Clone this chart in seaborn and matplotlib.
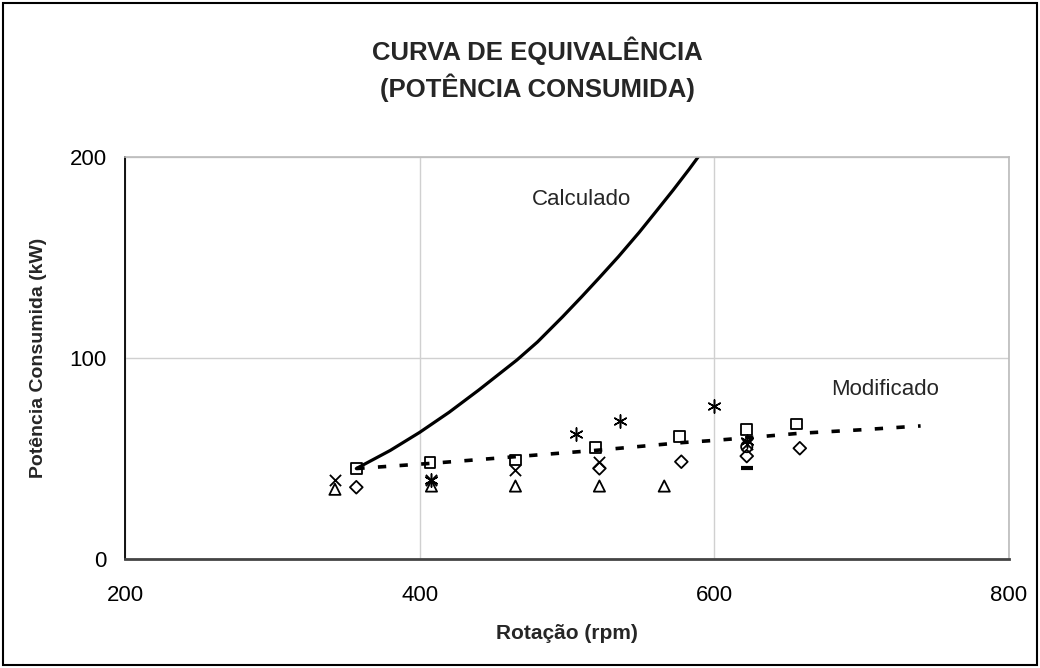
import matplotlib
matplotlib.use("Agg")
import matplotlib.pyplot as plt
import seaborn as sns
from matplotlib.patches import Rectangle

# ---------------- data ----------------
calc_rpm = [357, 380, 400, 420, 440, 466, 480, 497, 510, 522, 535, 549, 560, 572, 583, 592, 600]
calc_kw = [45, 54, 63, 73, 84, 99, 108, 120.5, 130.5, 140, 150.5, 162.5, 172.5, 183.5, 194, 203, 211]

mod_rpm = [357, 408, 465, 522, 578, 600, 622, 657, 700, 740]
mod_kw = [45, 47.6, 50.9, 54.2, 57.9, 59.0, 60.3, 62.5, 64.3, 66.2]

sq_rpm = [357, 407, 465, 519.5, 576.5, 622, 656]
sq_kw = [45.1, 47.9, 49.3, 55.6, 60.8, 64.5, 67.2]

x_rpm = [342.5, 408, 465, 522, 622]
x_kw = [39.3, 39.3, 44.3, 48.4, 57.0]

tri_rpm = [342.5, 408, 465, 522, 566]
tri_kw = [34.7, 36.3, 36.3, 36.3, 36.3]

dia_rpm = [357, 522, 577.6, 622, 658]
dia_kw = [35.7, 45.1, 48.4, 51.2, 55.1]

ast_rpm = [408, 506, 536, 600, 622]
ast_kw = [39.3, 62.2, 68.8, 76.1, 58.5]

circ_rpm = [622]
circ_kw = [55.9]

dash_rpm = [622]
dash_kw = [45.1]

x_ticks = [200, 400, 600, 800]
y_ticks = [0, 100, 200]

title_text = "CURVA DE EQUIVALÊNCIA\n(POTÊNCIA CONSUMIDA)"
x_label = "Rotação (rpm)"
y_label = "Potência Consumida (kW)"

# ---------------- style ----------------
sns.set_style("white")
plt.rcParams["font.family"] = ["Liberation Sans", "DejaVu Sans"]

fig = plt.figure(figsize=(10.4, 6.68), dpi=100)
ax = fig.add_axes([125 / 1040, 1 - 559 / 668, (1009 - 125) / 1040, (559 - 157) / 668])

# curves
sns.lineplot(x=calc_rpm, y=calc_kw, ax=ax, color="black", linewidth=2.3,
             sort=False, estimator=None)
sns.lineplot(x=mod_rpm, y=mod_kw, ax=ax, color="black", linewidth=2.6,
             sort=False, estimator=None)
ax.lines[-1].set_dashes((2.3, 3.7))

# markers
def hollow(xs, ys, m, s):
    sns.scatterplot(x=xs, y=ys, ax=ax, marker=m, s=s, facecolor="none",
                    edgecolor="black", linewidth=1.3, zorder=4)

def stroke(xs, ys, m, s, lw=1.3):
    sns.scatterplot(x=xs, y=ys, ax=ax, marker=m, s=s, color="black",
                    linewidth=lw, zorder=4)

hollow(sq_rpm, sq_kw, "s", 60)
hollow(tri_rpm, tri_kw, "^", 65)
hollow(dia_rpm, dia_kw, "D", 42)
hollow(circ_rpm, circ_kw, "o", 65)
stroke(x_rpm, x_kw, "x", 65)
stroke(ast_rpm, ast_kw, (6, 2, 0), 90, lw=1.1)
stroke(dash_rpm, dash_kw, "_", 80, lw=3)

# axes
ax.set_xlim(200, 800)
ax.set_ylim(0, 200)
ax.set_xticks(x_ticks)
ax.set_yticks(y_ticks)
ax.set_xticklabels([str(t) for t in x_ticks])
ax.set_yticklabels([str(t) for t in y_ticks])
ax.tick_params(axis="both", direction="out", length=7, width=1.2,
               color="#444444", labelsize=16, pad=6, labelcolor="black")
ax.tick_params(axis="x", pad=12)
ax.grid(True, color="#d0d0d0", linewidth=1.0)
ax.set_axisbelow(True)
for side in ["top", "right"]:
    ax.spines[side].set_color("#bbbbbb")
    ax.spines[side].set_linewidth(1.2)
ax.spines["left"].set_color("black")
ax.spines["left"].set_linewidth(1.3)
ax.spines["bottom"].set_color("#444444")
ax.spines["bottom"].set_linewidth(2.0)

ax.set_xlabel(x_label, fontsize=15, fontweight="bold", labelpad=13)
ax.set_ylabel(y_label, fontsize=14, fontweight="bold", labelpad=16)

ax.text(510, 179, "Calculado", fontsize=16, ha="center", va="center")
ax.text(716, 84.5, "Modificado", fontsize=16, ha="center", va="center")

fig.text(537 / 1040, 1 - 69 / 668, title_text, fontsize=18.5, fontweight="bold",
         ha="center", va="center", linespacing=1.35)

fig.patches.append(Rectangle((3 / 1040, 3 / 668), 1034 / 1040, 662 / 668,
                             transform=fig.transFigure, fill=False,
                             edgecolor="black", linewidth=1.5))

fig.savefig("out.png", dpi=100)
